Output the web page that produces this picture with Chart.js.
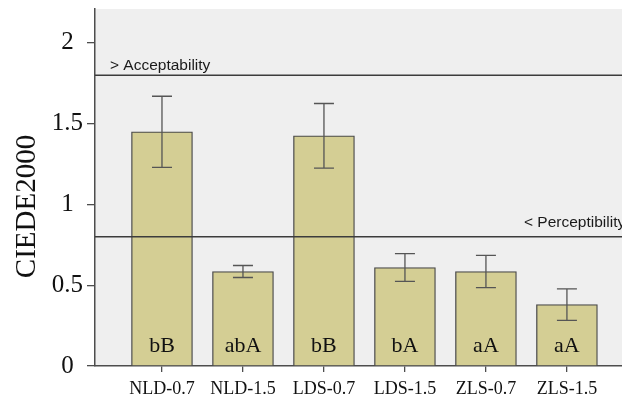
<!DOCTYPE html>
<html>
<head>
<meta charset="utf-8">
<script src="https://cdn.jsdelivr.net/npm/chart.js@4.4.1/dist/chart.umd.min.js"></script>
<style>
  html, body { margin: 0; padding: 0; background: #ffffff; }
  #wrap { width: 622px; height: 397px; }
</style>
</head>
<body>
<div id="wrap"><canvas id="c" width="622" height="397"></canvas></div>
<script>
// Colour difference (CIEDE2000) per group
const categories = ['NLD-0.7', 'NLD-1.5', 'LDS-0.7', 'LDS-1.5', 'ZLS-0.7', 'ZLS-1.5'];
const means      = [1.45, 0.585, 1.425, 0.61, 0.585, 0.38];
const errors     = [0.22, 0.037, 0.20, 0.086, 0.10, 0.097];
const letters    = ['bB', 'abA', 'bB', 'bA', 'aA', 'aA'];
const yTicks     = [0, 0.5, 1, 1.5, 2];
const thresholds = [
  { value: 1.8, label: '> Acceptability' },
  { value: 0.8, label: '< Perceptibility' }
];

const SERIF = '"Liberation Serif", "Times New Roman", serif';
const SANS = '"Liberation Sans", Arial, sans-serif';
const AXIS = '#4d4d4d';

const plotBackground = {
  id: 'plotBackground',
  beforeDraw(chart) {
    const { ctx, chartArea: a } = chart;
    ctx.save();
    ctx.fillStyle = '#efefef';
    ctx.fillRect(a.left, a.top, a.right - a.left, a.bottom - a.top);
    ctx.restore();
  }
};

const overlays = {
  id: 'overlays',
  afterDatasetsDraw(chart) {
    const { ctx, chartArea: a, scales: { x, y } } = chart;
    ctx.save();

    // threshold lines with their captions
    thresholds.forEach((t, i) => {
      const py = y.getPixelForValue(t.value);
      ctx.strokeStyle = '#3c3c3c';
      ctx.lineWidth = 1.5;
      ctx.beginPath();
      ctx.moveTo(a.left, py);
      ctx.lineTo(a.right, py);
      ctx.stroke();
      ctx.fillStyle = '#1a1a1a';
      ctx.font = '15.5px ' + SANS;
      ctx.textAlign = 'left';
      ctx.textBaseline = 'alphabetic';
      if (i === 0) ctx.fillText(t.label, a.left + 15, py - 5.5);
      else ctx.fillText(t.label, 524, py - 9.5);
    });

    // error bars
    ctx.strokeStyle = '#555555';
    ctx.lineWidth = 1.3;
    means.forEach((m, i) => {
      const px = x.getPixelForValue(i + 1);
      const top = y.getPixelForValue(m + errors[i]);
      const bot = y.getPixelForValue(m - errors[i]);
      ctx.beginPath();
      ctx.moveTo(px, top); ctx.lineTo(px, bot);
      ctx.moveTo(px - 10, top); ctx.lineTo(px + 10, top);
      ctx.moveTo(px - 10, bot); ctx.lineTo(px + 10, bot);
      ctx.stroke();
    });

    // significance letters inside the bars
    ctx.fillStyle = '#111111';
    ctx.font = '22px ' + SERIF;
    ctx.textAlign = 'center';
    ctx.textBaseline = 'middle';
    letters.forEach((s, i) => {
      ctx.fillText(s, x.getPixelForValue(i + 1), a.bottom - 20);
    });

    // y axis title
    ctx.save();
    ctx.translate(27.5, 206.5);
    ctx.rotate(-Math.PI / 2);
    ctx.font = '29px ' + SERIF;
    ctx.fillStyle = '#111111';
    ctx.textAlign = 'center';
    ctx.textBaseline = 'middle';
    ctx.fillText('CIEDE2000', 0, 0);
    ctx.restore();

    ctx.restore();
  }
};

new Chart(document.getElementById('c'), {
  type: 'bar',
  data: {
    datasets: [{
      data: means.map((m, i) => ({ x: i + 1, y: m })),
      backgroundColor: 'rgb(212, 206, 148)',
      borderColor: '#4a4a4a',
      borderWidth: 1.3,
      borderSkipped: 'bottom',
      barThickness: 61
    }]
  },
  options: {
    responsive: false,
    animation: false,
    layout: { padding: { top: 9, right: 0, left: 0, bottom: 0 } },
    plugins: { legend: { display: false }, tooltip: { enabled: false } },
    scales: {
      x: {
        type: 'linear',
        offset: false,
        min: 0.173,
        max: 6.68,
        afterBuildTicks(scale) { scale.ticks = categories.map((c, i) => ({ value: i + 1 })); },
        afterFit(scale) { scale.height = 31; scale.paddingLeft = 0; scale.paddingRight = 0; },
        ticks: {
          autoSkip: false,
          maxRotation: 0,
          padding: 6,
          color: '#111111',
          font: { family: SERIF, size: 18 },
          callback: (v) => categories[Math.round(v) - 1]
        },
        grid: { offset: false, drawOnChartArea: false, tickLength: 6, color: AXIS, lineWidth: 1.3 },
        border: { display: true, color: AXIS, width: 1.5 }
      },
      y: {
        min: 0,
        max: 2.21,
        afterBuildTicks(scale) { scale.ticks = yTicks.map(v => ({ value: v })); },
        afterFit(scale) { scale.width = 95; scale.paddingTop = 0; scale.paddingBottom = 0; },
        ticks: {
          crossAlign: 'center',
          padding: 4,
          color: '#111111',
          font: { family: SERIF, size: 25 },
          callback: (v) => String(v)
        },
        grid: { drawOnChartArea: false, tickLength: 8, color: AXIS, lineWidth: 1.3 },
        border: { display: true, color: AXIS, width: 1.5 }
      }
    }
  },
  plugins: [plotBackground, overlays]
});
</script>
</body>
</html>
